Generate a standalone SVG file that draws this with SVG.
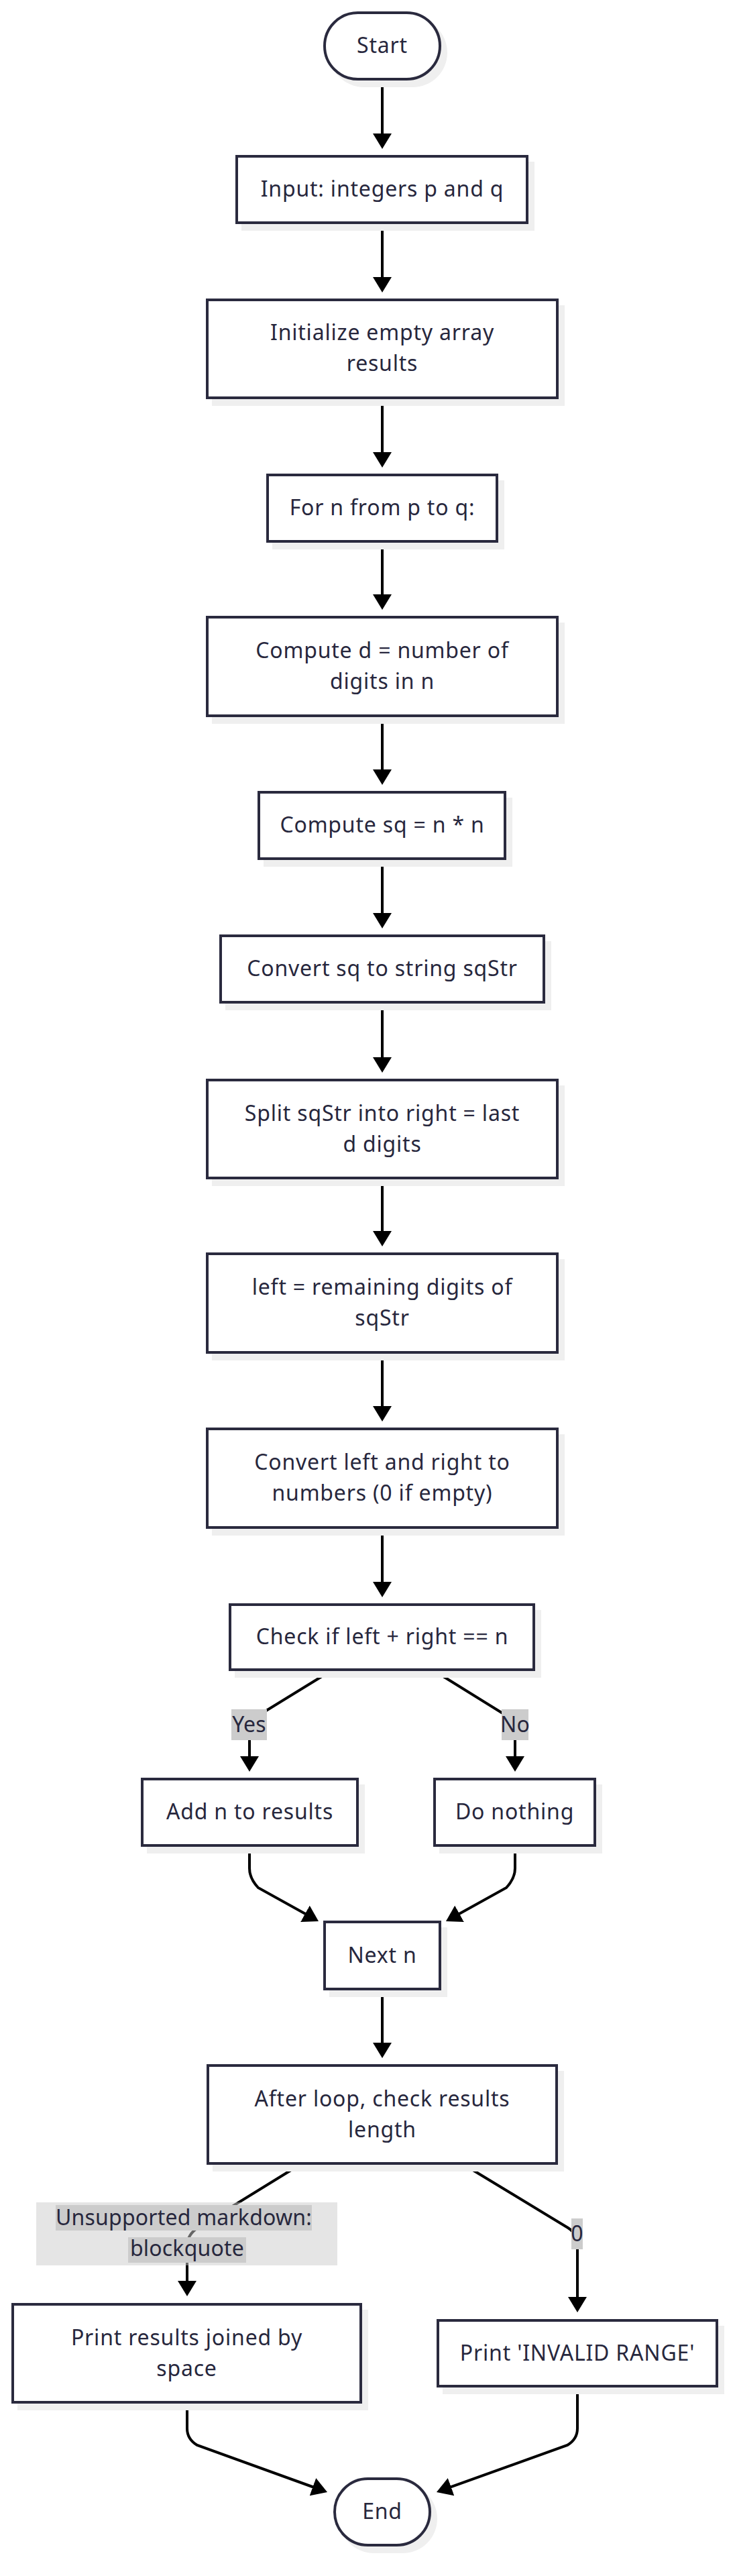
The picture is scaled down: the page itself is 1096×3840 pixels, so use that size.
<svg xmlns="http://www.w3.org/2000/svg" width="1096" height="3840" viewBox="0 0 1096 3840">
<defs>
<style>
.bg{fill:#ffffff}
.shadow{fill:#efefef}
.box{fill:#ffffff;stroke:#2a2a3e;stroke-width:4}
.edge{fill:none;stroke:#000000;stroke-width:4}
.t{font-family:"Noto Sans","Open Sans",sans-serif;font-size:32px;letter-spacing:0.8px;fill:#27273d;text-anchor:middle}
.tl{letter-spacing:0.2px}
.lbl{fill:#cccccc}
.lblouter{fill:#cccccc;fill-opacity:0.5}
</style>
<marker id="arr" viewBox="0 0 23 28" refX="17" refY="14" markerWidth="23" markerHeight="28" markerUnits="userSpaceOnUse" orient="auto"><path d="M0,0 L23,14 L0,28 z" fill="#000000"/></marker>
</defs>
<rect class="bg" x="0" y="0" width="1096" height="3840"/>

<g id="connectors">
<path class="edge" marker-end="url(#arr)" d="M570,120 L570,216"/>
<path class="edge" marker-end="url(#arr)" d="M570,334 L570,430"/>
<path class="edge" marker-end="url(#arr)" d="M570,595 L570,691"/>
<path class="edge" marker-end="url(#arr)" d="M570,809 L570,903"/>
<path class="edge" marker-end="url(#arr)" d="M570,1069 L570,1164"/>
<path class="edge" marker-end="url(#arr)" d="M570,1282 L570,1378"/>
<path class="edge" marker-end="url(#arr)" d="M570,1496 L570,1593"/>
<path class="edge" marker-end="url(#arr)" d="M570,1758 L570,1852"/>
<path class="edge" marker-end="url(#arr)" d="M570,2018 L570,2113"/>
<path class="edge" marker-end="url(#arr)" d="M570,2279 L570,2375"/>
<path class="edge" marker-end="url(#arr)" d="M493,2491 L384,2558 Q372,2566 372,2580 L372,2635"/>
<path class="edge" marker-end="url(#arr)" d="M648,2491 L756,2558 Q768,2566 768,2580 L768,2635"/>
<path class="edge" marker-end="url(#arr)" d="M372,2753 L372,2785 Q372,2800 385,2814 L469.8,2861.1"/>
<path class="edge" marker-end="url(#arr)" d="M768,2753 L768,2785 Q768,2800 755,2814 L670.2,2861.1"/>
<path class="edge" marker-end="url(#arr)" d="M570,2967 L570,3062"/>
<path class="edge" marker-end="url(#arr)" d="M447,3227 L296,3320 Q279,3331 279,3348 L279,3417"/>
<path class="edge" marker-end="url(#arr)" d="M692,3227 L847,3321 Q861,3330 861,3345 L861,3441"/>
<path class="edge" marker-end="url(#arr)" d="M279,3583 L279,3620 Q279,3636 294,3645 L482.4,3713"/>
<path class="edge" marker-end="url(#arr)" d="M861,3559 L861,3620 Q861,3636 846,3645 L656.6,3712.9"/>
</g>

<g id="edge-labels">
<g id="label-yes"><rect class="lbl" x="345" y="2548" width="53" height="46"/><text class="t tl" x="371.5" y="2581.5">Yes</text></g>
<g id="label-no"><rect class="lbl" x="748" y="2548" width="40" height="46"/><text class="t tl" x="768" y="2581.5">No</text></g>
<g id="label-zero"><rect class="lbl" x="852" y="3307" width="17" height="46"/><text class="t tl" x="860.5" y="3340.5">0</text></g>
<g id="label-blockquote">
<rect class="lblouter" x="54" y="3283" width="449" height="94"/>
<rect class="lbl" x="83" y="3287" width="382" height="38"/>
<rect class="lbl" x="191" y="3335" width="176" height="38"/>
<text class="t tl" x="274" y="3317">Unsupported markdown:</text>
<text class="t tl" x="279" y="3363">blockquote</text>
</g>
</g>

<g id="n-start">
<rect class="shadow" x="491" y="27" width="176" height="103" rx="51.5"/>
<rect class="box" x="484" y="19" width="172" height="99" rx="49.5"/>
<text class="t" x="570" y="79">Start</text>
</g>
<g id="n-input">
<rect class="shadow" x="360" y="241" width="437" height="103"/>
<rect class="box" x="353" y="233" width="433" height="99"/>
<text class="t" x="570" y="293">Input: integers p and q</text>
</g>
<g id="n-init">
<rect class="shadow" x="316" y="455" width="526" height="150"/>
<rect class="box" x="309" y="447" width="522" height="146"/>
<text class="t" x="570" y="507">Initialize empty array</text>
<text class="t" x="570" y="553">results</text>
</g>
<g id="n-for">
<rect class="shadow" x="406" y="716" width="346" height="103"/>
<rect class="box" x="399" y="708" width="342" height="99"/>
<text class="t" x="570" y="768">For n from p to q:</text>
</g>
<g id="n-computed">
<rect class="shadow" x="316" y="928" width="526" height="151"/>
<rect class="box" x="309" y="920" width="522" height="147"/>
<text class="t" x="570" y="981">Compute d = number of</text>
<text class="t" x="570" y="1027">digits in n</text>
</g>
<g id="n-computesq">
<rect class="shadow" x="393" y="1189" width="371" height="103"/>
<rect class="box" x="386" y="1181" width="367" height="99"/>
<text class="t" x="570" y="1241">Compute sq = n * n</text>
</g>
<g id="n-convertsq">
<rect class="shadow" x="336" y="1403" width="486" height="103"/>
<rect class="box" x="329" y="1395" width="482" height="99"/>
<text class="t" x="570" y="1455">Convert sq to string sqStr</text>
</g>
<g id="n-split">
<rect class="shadow" x="316" y="1618" width="526" height="150"/>
<rect class="box" x="309" y="1610" width="522" height="146"/>
<text class="t" x="570" y="1670.5">Split sqStr into right = last</text>
<text class="t" x="570" y="1716.5">d digits</text>
</g>
<g id="n-left">
<rect class="shadow" x="316" y="1877" width="526" height="151"/>
<rect class="box" x="309" y="1869" width="522" height="147"/>
<text class="t" x="570" y="1930">left = remaining digits of</text>
<text class="t" x="570" y="1976">sqStr</text>
</g>
<g id="n-convertleft">
<rect class="shadow" x="316" y="2138" width="526" height="151"/>
<rect class="box" x="309" y="2130" width="522" height="147"/>
<text class="t" x="570" y="2191">Convert left and right to</text>
<text class="t" x="570" y="2237">numbers (0 if empty)</text>
</g>
<g id="n-check">
<rect class="shadow" x="350" y="2400" width="457" height="101"/>
<rect class="box" x="343" y="2392" width="453" height="97"/>
<text class="t" x="570" y="2451">Check if left + right == n</text>
</g>
<g id="n-add">
<rect class="shadow" x="219" y="2660" width="325" height="103"/>
<rect class="box" x="212" y="2652" width="321" height="99"/>
<text class="t" x="372.5" y="2712">Add n to results</text>
</g>
<g id="n-nothing">
<rect class="shadow" x="655" y="2660" width="243" height="103"/>
<rect class="box" x="648" y="2652" width="239" height="99"/>
<text class="t" x="767.5" y="2712">Do nothing</text>
</g>
<g id="n-next">
<rect class="shadow" x="491" y="2873" width="176" height="104"/>
<rect class="box" x="484" y="2865" width="172" height="100"/>
<text class="t" x="570" y="2925.5">Next n</text>
</g>
<g id="n-after">
<rect class="shadow" x="317" y="3087" width="524" height="150"/>
<rect class="box" x="310" y="3079" width="520" height="146"/>
<text class="t" x="570" y="3139.5">After loop, check results</text>
<text class="t" x="570" y="3185.5">length</text>
</g>
<g id="n-printresults">
<rect class="shadow" x="26" y="3443" width="523" height="150"/>
<rect class="box" x="19" y="3435" width="519" height="146"/>
<text class="t" x="278.5" y="3495.5">Print results joined by</text>
<text class="t" x="278.5" y="3541.5">space</text>
</g>
<g id="n-printinvalid">
<rect class="shadow" x="660" y="3467" width="420" height="102"/>
<rect class="box" x="653" y="3459" width="416" height="98"/>
<text class="t" x="861" y="3518.5">Print 'INVALID RANGE'</text>
</g>
<g id="n-end">
<rect class="shadow" x="506" y="3703" width="146" height="103" rx="51.5"/>
<rect class="box" x="499" y="3695" width="142" height="99" rx="49.5"/>
<text class="t" x="570" y="3755">End</text>
</g>
</svg>
